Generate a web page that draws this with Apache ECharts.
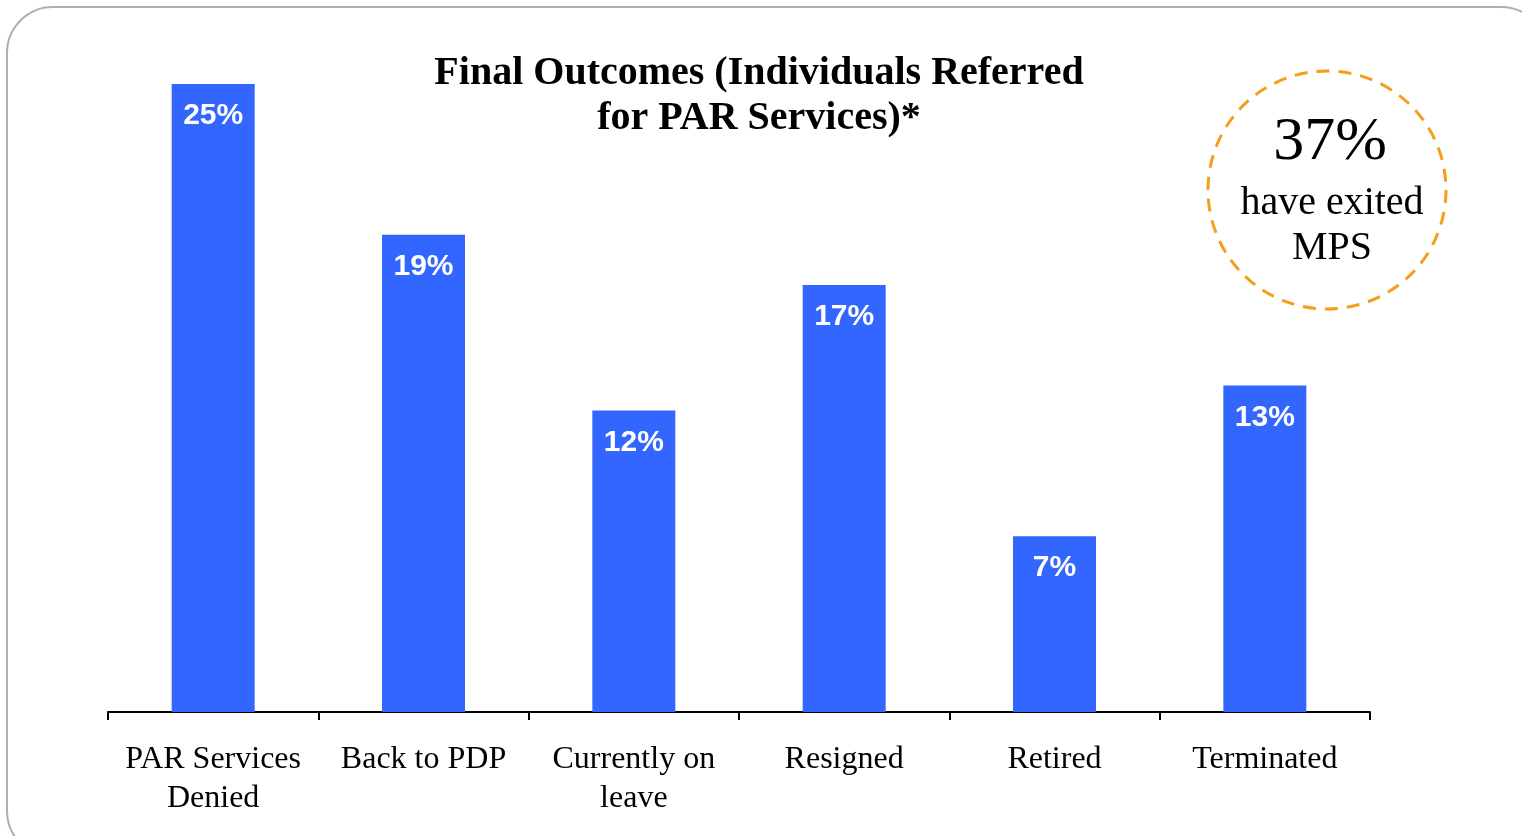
<!DOCTYPE html>
<html>
<head>
<meta charset="utf-8">
<script src="https://cdn.jsdelivr.net/npm/echarts@6/dist/echarts.min.js"></script>
<style>
html, body { margin: 0; padding: 0; background: #fff; }
#main { width: 1522px; height: 836px; }
</style>
</head>
<body>
<div id="main"></div>
<script>
const categories = ['PAR Services\nDenied', 'Back to PDP', 'Currently on\nleave', 'Resigned', 'Retired', 'Terminated']
const values = [25, 19, 12, 17, 7, 13]
const exitedShare = '37%'

const serif = '"Liberation Serif", "DejaVu Serif", serif'
const chart = echarts.init(document.getElementById('main'))

const options = {
  backgroundColor: '#fff',
  animation: false,
  title: {
    text: 'Final Outcomes (Individuals Referred\nfor PAR Services)*',
    left: 754,
    top: 46,
    textAlign: 'center',
    textStyle: {
      fontFamily: serif,
      fontWeight: 'bold',
      fontSize: 40,
      lineHeight: 45,
      color: '#000'
    }
  },
  grid: { left: 108, right: 152, top: 84, bottom: 124 },
  xAxis: {
    type: 'category',
    data: categories,
    axisLine: { lineStyle: { color: '#000', width: 2 } },
    axisTick: { show: true, length: 8, lineStyle: { color: '#000', width: 2 } },
    axisLabel: {
      fontFamily: serif,
      fontSize: 32,
      lineHeight: 39,
      color: '#000',
      margin: 28,
      interval: 0
    }
  },
  yAxis: {
    type: 'value',
    min: 0,
    max: 25,
    show: false,
    splitLine: { show: false }
  },
  series: [{
    type: 'bar',
    data: values,
    barWidth: 83,
    itemStyle: { color: '#3366ff' },
    label: {
      show: true,
      position: 'insideTop',
      distance: 17,
      formatter: '{c}%',
      color: '#fff',
      fontFamily: '"Liberation Sans", Arial, sans-serif',
      fontWeight: 'bold',
      fontSize: 30
    }
  }],
  graphic: [
    {
      type: 'rect',
      shape: { x: 7, y: 7, width: 1540, height: 850, r: 46 },
      style: { fill: 'none', stroke: '#a4b1bf', lineWidth: 2 },
      silent: true
    },
    {
      type: 'circle',
      shape: { cx: 1327, cy: 190, r: 119 },
      style: { fill: 'none', stroke: '#f59e1b', lineWidth: 3, lineDash: [13, 9] },
      silent: true
    },
    {
      type: 'text',
      x: 1330,
      y: 143,
      style: {
        text: exitedShare,
        fontFamily: serif,
        fontSize: 62,
        fill: '#000',
        align: 'center',
        verticalAlign: 'middle'
      }
    },
    {
      type: 'text',
      x: 1332,
      y: 226,
      style: {
        text: 'have exited\nMPS',
        fontFamily: serif,
        fontSize: 40,
        lineHeight: 45,
        fill: '#000',
        align: 'center',
        verticalAlign: 'middle'
      }
    }
  ]
}

chart.setOption(options)
window.addEventListener('resize', () => chart.resize())
</script>
</body>
</html>
